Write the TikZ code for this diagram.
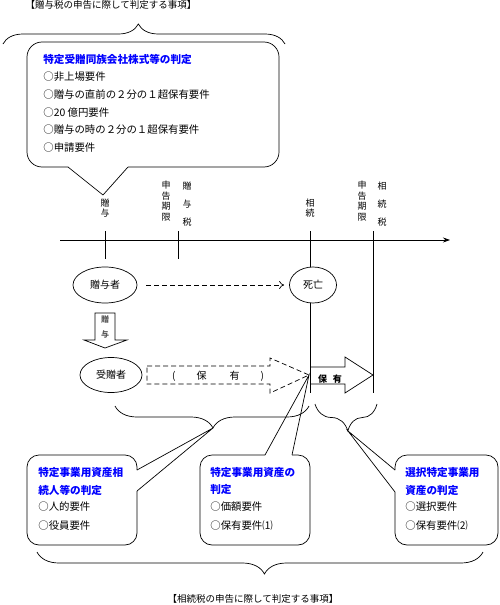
\documentclass[tikz,border=0pt]{standalone}
\usepackage{fontspec}
\setmainfont{Noto Sans CJK JP}
\usetikzlibrary{arrows.meta,decorations.pathreplacing,shapes.geometric}

\begin{document}
\begin{tikzpicture}[x=1pt, y=-1pt, line width=0.7pt,
  txt/.style={inner sep=0pt, anchor=west, font=\fontsize{10.4}{12}\selectfont},
  head/.style={inner sep=0pt, anchor=west, text=blue, font=\fontsize{10.6}{12}\selectfont\bfseries},
  vlabel/.style={inner sep=0pt, align=center, font=\fontsize{9}{10.5}\selectfont},
  wlabel/.style={inner sep=0pt, align=center, font=\fontsize{9}{18.2}\selectfont},
  person/.style={ellipse, draw, fill=white, inner sep=0pt, font=\fontsize{10}{12}\selectfont}]

        \useasboundingbox (0,0) rectangle (500,605);

        % titles
        \node[inner sep=0pt, font=\fontsize{9.5}{12}\selectfont] (toptitle) at (111,5) {【贈与税の申告に際して判定する事項】};
        \node[inner sep=0pt, font=\fontsize{9.5}{12}\selectfont] (bottitle) at (253,599) {【相続税の申告に際して判定する事項】};

        % braces
        \draw[decorate, decoration={brace, amplitude=20pt, aspect=0.48}] (3,44) -- (285,44);
        \draw[decorate, decoration={brace, amplitude=22pt, aspect=0.495}] (309,406) -- (115,406);
        \draw[decorate, decoration={brace, amplitude=27pt, aspect=0.47}] (377,404) -- (315,404);
        \draw[decorate, decoration={brace, amplitude=22pt, aspect=0.49}] (483,552) -- (37,552);

        % top callout
        \draw[rounded corners=15pt] (128,167) -- (279,167) -- (279,42) -- (27,42) -- (27,167) -- (68,167);
        \draw (68,167) -- (103,195) -- (128,167);
        \node[head] (stock) at (43,59)  {特定受贈同族会社株式等の判定};
        \node[txt]  (req1)  at (43,77)  {○非上場要件};
        \node[txt]  (req2)  at (43,95)  {○贈与の直前の２分の１超保有要件};
        \node[txt]  (req3)  at (43,113) {○20 億円要件};
        \node[txt]  (req4)  at (43,130) {○贈与の時の２分の１超保有要件};
        \node[txt]  (req5)  at (43,148) {○申請要件};

        % time line
        \draw[-{Stealth[length=7pt,width=5pt]}] (60,240) -- (450,240);
        \draw (105,231) -- (105,259);
        \draw (178,231) -- (178,259);
        \draw (310,231) -- (310,393);
        \draw (373,231) -- (373,393);

        \node[vlabel] (gift)     at (105,208) {贈\\与};
        \node[vlabel] (giftdue)  at (166,201) {申\\告\\期\\限};
        \node[wlabel] (gifttax)  at (187,204) {贈\\与\\税};
        \node[vlabel] (inherit)  at (310,208) {相\\続};
        \node[vlabel] (inhdue)   at (362,201) {申\\告\\期\\限};
        \node[wlabel] (inhtax)   at (382,204) {相\\続\\税};

        % persons
        \node[person, minimum width=64pt, minimum height=36pt] (giver)  at (105,285) {贈与者};
        \node[person, minimum width=47pt, minimum height=36pt] (death)  at (313,285) {死亡};
        \node[person, minimum width=62pt, minimum height=35pt] (donee)  at (111,375) {受贈者};
        \draw[dash pattern=on 5pt off 3pt, -{To[length=5pt,width=8pt]}, shorten <=9pt, shorten >=5pt] (giver) -- (death);

        % gift arrow
        \draw (95,313) -- (115,313) -- (115,340) -- (127,340) -- (105,348) -- (84,340) -- (95,340) -- cycle;
        \node[inner sep=0pt, align=center, text=black!65, font=\fontsize{8}{15}\selectfont\bfseries] (giftarrow) at (105,327) {贈\\与};

        % holding arrows
        \draw[dash pattern=on 5pt off 3pt] (147,366) -- (270,366) -- (270,358) -- (309,375) -- (270,393) -- (270,384) -- (147,384) -- cycle;
        \node[inner sep=0pt, font=\fontsize{10}{12}\selectfont] (holdbefore) at (218,376) {(\hspace{21pt}保\hspace{23pt}有\hspace{21pt})};
        \draw (310,367) -- (345,367) -- (345,357) -- (373,375) -- (345,393) -- (345,384) -- (310,384);
        \node[inner sep=0pt, font=\fontsize{9}{12}\selectfont\bfseries] (holdafter) at (330,379) {保\hspace{6pt}有};

        % callout 1
        \draw[rounded corners=12pt] (137,491) -- (137,545) -- (27,545) -- (27,455) -- (137,455) -- (137,470);
        \draw (137,470) -- (213,428) -- (137,491);
        \node[head] (heir1)  at (38,472) {特定事業用資産相};
        \node[head] (heir2)  at (38,490) {続人等の判定};
        \node[txt]  (heirq1) at (38,507) {○人的要件};
        \node[txt]  (heirq2) at (38,526) {○役員要件};

        % callout 2
        \draw[rounded corners=12pt] (292,455) -- (310,455) -- (310,545) -- (200,545) -- (200,455) -- (265,455);
        \draw (265,455) -- (309,375) -- (292,455);
        \node[head] (asset1)  at (210,472) {特定事業用資産の};
        \node[head] (asset2)  at (210,490) {判定};
        \node[txt]  (assetq1) at (210,507) {○価額要件};
        \node[txt]  (assetq2) at (210,526) {○保有要件⑴};

        % callout 3
        \draw[rounded corners=12pt] (395,470) -- (395,455) -- (498,455) -- (498,545) -- (395,545) -- (395,492);
        \draw (395,470) -- (348,431) -- (395,492);
        \node[head] (choice1)  at (405,472) {選択特定事業用};
        \node[head] (choice2)  at (405,490) {資産の判定};
        \node[txt]  (choiceq1) at (405,507) {○選択要件};
        \node[txt]  (choiceq2) at (405,526) {○保有要件⑵};

    \end{tikzpicture}
\end{document}
